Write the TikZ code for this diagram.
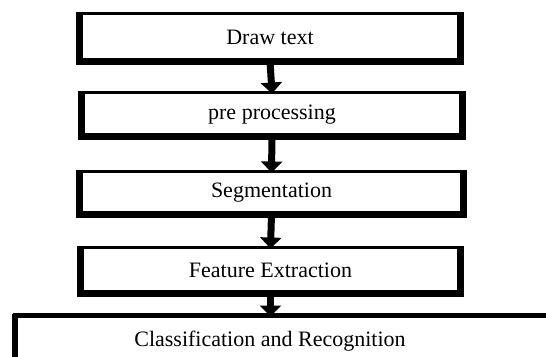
\documentclass[tikz,border=0pt]{standalone}
\usepackage{fontspec}
\setmainfont{Liberation Serif}
\usetikzlibrary{arrows.meta}
\begin{document}
\begin{tikzpicture}[x=1pt,y=-1pt,
  stagebox/.style={draw=black, line width=3pt, inner sep=0pt, outer sep=0pt,
    font=\fontsize{22}{26}\selectfont},
  heavyedge/.style={line width=6.5pt, line join=miter, shorten <=-1.5pt, shorten >=-1.5pt},
  flowarrow/.style={line width=7pt, -{Triangle[width=21pt,length=11pt]}, shorten >=-1pt}]
  \useasboundingbox (0,0) rectangle (546,356);
  \fill[white] (0,0) rectangle (546,356);

  \node[stagebox, minimum width=381pt, minimum height=48pt] (b1) at (270,37.5) {\raisebox{-6pt}{Draw text}};
  \node[stagebox, minimum width=381pt, minimum height=44pt] (b2) at (272,114.5) {pre processing};
  \node[stagebox, minimum width=384pt, minimum height=43pt] (b3) at (271.5,193) {\raisebox{3pt}{Segmentation}};
  \node[stagebox, minimum width=380pt, minimum height=46pt] (b4) at (270.5,270.5) {Feature Extraction};
  \node[stagebox, line width=4.5pt, minimum width=560pt, minimum height=60pt, anchor=north west] (b5) at (15,315.5) {};
  \node[font=\fontsize{22}{26}\selectfont] (t5) at (270,341) {Classification and Recognition};

  % heavier strokes on the left, right and bottom sides
  \foreach \b in {b1,b2,b3,b4}{
    \draw[heavyedge] (\b.north west) -- (\b.south west) -- (\b.south east) -- (\b.north east);
  }
  \draw[heavyedge] (b5.north west) -- (b5.south west);

  \draw[flowarrow] (b1.south) -- (b2.north);
  \draw[flowarrow] (b2.south) -- (b3.north);
  \draw[flowarrow] (b3.south) -- (b4.north);
  \draw[flowarrow] (b4.south) -- (b5.north -| b4.south);
\end{tikzpicture}
\end{document}
